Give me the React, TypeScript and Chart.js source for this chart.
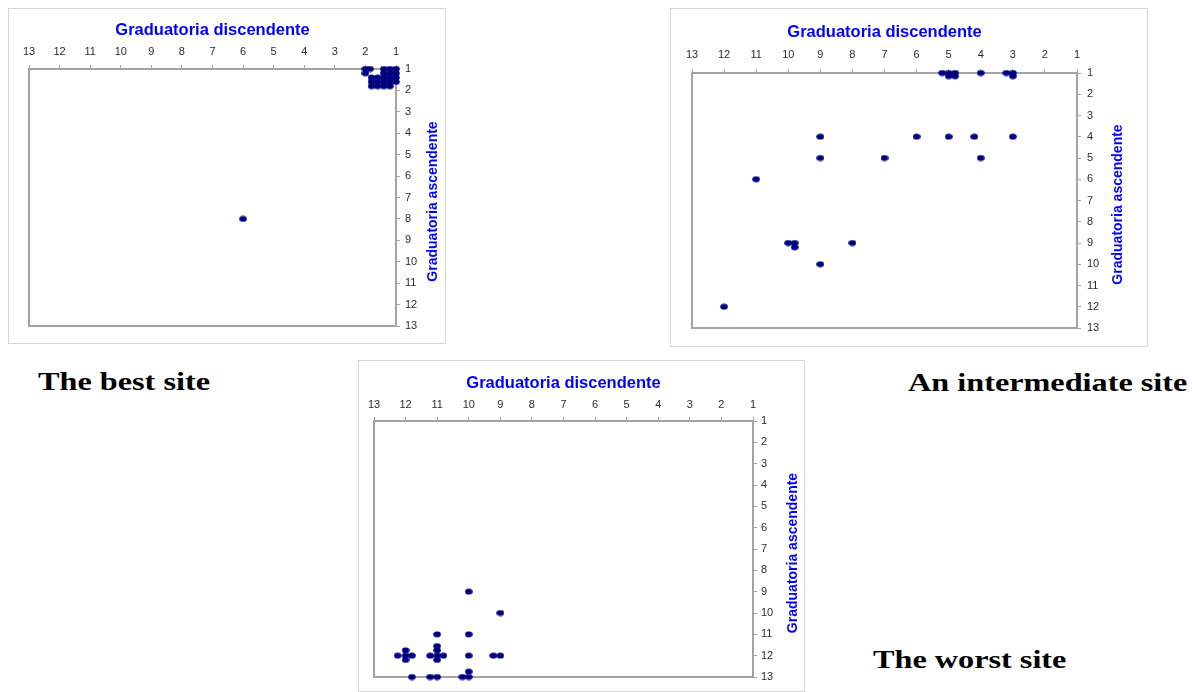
import React, { useEffect, useRef } from "react";
import { Chart, registerables } from "chart.js";

Chart.register(...registerables);

// ---------- data ----------
const RANK_TICKS = ["1", "2", "3", "4", "5", "6", "7", "8", "9", "10", "11", "12", "13"];
const X_TITLE = "Graduatoria discendente";
const Y_TITLE = "Graduatoria ascendente";
const SITE_LABELS = ["The best site", "An intermediate site", "The worst site"];

// The best site
const bestX = [2.0, 1.85, 1.4, 1.2, 1.0, 2.0, 1.4, 1.2, 1.0, 1.8, 1.6, 1.4, 1.2, 1.0, 1.8, 1.6, 1.4, 1.2, 1.0, 1.8, 1.6, 1.4, 1.2, 6];
const bestY = [1, 1, 1, 1, 1, 1.2, 1.2, 1.2, 1.2, 1.4, 1.4, 1.4, 1.4, 1.4, 1.6, 1.6, 1.6, 1.6, 1.6, 1.8, 1.8, 1.8, 1.8, 8];

// An intermediate site
const midX = [5.2, 5, 5, 4.8, 4.8, 4, 3.2, 3, 3, 9, 6, 5, 4.2, 3, 9, 7, 4, 11, 10, 9.8, 9.8, 8, 9, 12];
const midY = [1, 1, 1.15, 1, 1.15, 1, 1, 1, 1.15, 4, 4, 4, 4, 4, 5, 5, 5, 6, 9, 9, 9.2, 9, 10, 12];

// The worst site
const worstX = [10, 9, 11, 10, 12.25, 12, 11.8, 12, 12, 11.22, 11, 10.8, 11, 11, 11, 10, 9.22, 9, 11.8, 11.22, 11, 10.2, 10, 10];
const worstY = [9, 10, 11, 11, 12, 12, 12, 11.75, 12.2, 12, 12, 12, 11.55, 11.75, 12.2, 12, 12, 12, 13, 13, 13, 13, 13, 12.75];

// ---------- layout ----------
type Cfg = {
  left: number; top: number; width: number; height: number;
  plot: { l: number; r: number; t: number; b: number };
  titlePad: number; xPad: number; yPad: number; yTitleX: number;
  xs: number[]; ys: number[];
};

const CHARTS: Cfg[] = [
  { left: 8, top: 8, width: 438, height: 336, plot: { l: 21, r: 388, t: 61, b: 318 }, titlePad: 13, xPad: 6, yPad: 5, yTitleX: 425, xs: bestX, ys: bestY },
  { left: 670, top: 8, width: 478, height: 339, plot: { l: 22, r: 407, t: 65, b: 320 }, titlePad: 15, xPad: 7, yPad: 6, yTitleX: 448, xs: midX, ys: midY },
  { left: 358, top: 360, width: 447, height: 332, plot: { l: 16, r: 395, t: 61, b: 317 }, titlePad: 14, xPad: 5, yPad: 4, yTitleX: 435, xs: worstX, ys: worstY },
];

const LABEL_POS = [
  { left: 38, top: 369 },
  { left: 908, top: 370 },
  { left: 873, top: 647 },
];

const SANS = "'Liberation Sans', Arial, sans-serif";

function makeDot(): HTMLCanvasElement {
  const c = document.createElement("canvas");
  c.width = 8;
  c.height = 7;
  const ctx = c.getContext("2d")!;
  ctx.fillStyle = "#000080";
  ctx.beginPath();
  ctx.ellipse(4, 3.5, 3.8, 3.0, 0, 0, Math.PI * 2);
  ctx.fill();
  return c;
}

function RankChart({ cfg }: { cfg: Cfg }) {
  const ref = useRef<HTMLCanvasElement>(null);
  useEffect(() => {
    if (!ref.current) return;
    const dot = makeDot();
    const { plot } = cfg;
    const framePlugin = {
      id: "plotFrame",
      beforeDatasetsDraw(chart: any) {
        const { ctx, chartArea: a } = chart;
        ctx.save();
        ctx.strokeStyle = "#a3a3a3";
        ctx.lineWidth = 2;
        ctx.strokeRect(a.left, a.top, a.right - a.left, a.bottom - a.top);
        ctx.restore();
      },
      afterDraw(chart: any) {
        const { ctx, chartArea: a } = chart;
        ctx.save();
        ctx.translate(cfg.yTitleX, (a.top + a.bottom) / 2 + 4);
        ctx.rotate(-Math.PI / 2);
        ctx.font = `bold 14px ${SANS}`;
        ctx.fillStyle = "#0000ff";
        ctx.textAlign = "center";
        ctx.textBaseline = "middle";
        ctx.fillText(Y_TITLE, 0, 0);
        ctx.restore();
      },
    };
    const chart = new Chart(ref.current, {
      type: "scatter",
      data: {
        datasets: [
          {
            data: cfg.xs.map((x, i) => ({ x, y: cfg.ys[i] })),
            pointStyle: dot as any,
            pointRadius: 4,
            clip: false as any,
          },
        ],
      },
      options: {
        responsive: false,
        animation: false,
        devicePixelRatio: 1,
        layout: { padding: { left: plot.l, top: 0, right: 0, bottom: cfg.height - plot.b } },
        plugins: { legend: { display: false }, tooltip: { enabled: false } },
        scales: {
          x: {
            type: "linear",
            position: "top",
            reverse: true,
            min: 1,
            max: 13,
            afterFit: (s: any) => { s.height = plot.t; },
            afterBuildTicks: (s: any) => { s.ticks = RANK_TICKS.map((_, i) => ({ value: i + 1 })); },
            ticks: {
              stepSize: 1,
              padding: cfg.xPad,
              color: "#2b2b2b",
              font: { family: SANS, size: 11 },
              callback: (v: any) => RANK_TICKS[Number(v) - 1],
            },
            grid: { drawOnChartArea: false, drawTicks: true, tickLength: 4, color: "#a3a3a3" },
            border: { display: false },
            title: {
              display: true,
              text: X_TITLE,
              color: "#0000ff",
              font: { family: SANS, size: 16.5, weight: "bold" },
              padding: { top: cfg.titlePad, bottom: 0 },
            },
          },
          y: {
            type: "linear",
            position: "right",
            reverse: true,
            min: 1,
            max: 13,
            afterFit: (s: any) => { s.width = cfg.width - plot.r; },
            afterBuildTicks: (s: any) => { s.ticks = RANK_TICKS.map((_, i) => ({ value: i + 1 })); },
            ticks: {
              stepSize: 1,
              padding: cfg.yPad,
              color: "#2b2b2b",
              font: { family: SANS, size: 11 },
              callback: (v: any) => RANK_TICKS[Number(v) - 1],
            },
            grid: { drawOnChartArea: false, drawTicks: true, tickLength: 4, color: "#a3a3a3" },
            border: { display: false },
          },
        },
      },
      plugins: [framePlugin],
    });
    return () => chart.destroy();
  }, [cfg]);

  return (
    <>
      <div
        style={{
          position: "absolute",
          left: cfg.left,
          top: cfg.top,
          width: cfg.width,
          height: cfg.height,
          boxSizing: "border-box",
          border: "1px solid #d6d6d6",
          background: "#ffffff",
        }}
      />
      <canvas
        ref={ref}
        width={cfg.width}
        height={cfg.height}
        style={{ position: "absolute", left: cfg.left, top: cfg.top, width: cfg.width, height: cfg.height }}
      />
    </>
  );
}

export default function App() {
  return (
    <div style={{ position: "absolute", left: 0, top: 0, width: 1192, height: 692, background: "#ffffff", overflow: "hidden" }}>
      {CHARTS.map((c, i) => (
        <RankChart key={i} cfg={c} />
      ))}
      {SITE_LABELS.map((t, i) => (
        <div
          key={t}
          style={{
            position: "absolute",
            left: LABEL_POS[i].left,
            top: LABEL_POS[i].top,
            fontFamily: "'Liberation Serif', 'Times New Roman', serif",
            fontWeight: "bold",
            fontSize: 26,
            lineHeight: 1,
            whiteSpace: "nowrap",
            color: "#000000",
            transform: "scaleX(1.24)",
            transformOrigin: "left top",
          }}
        >
          {t}
        </div>
      ))}
    </div>
  );
}
